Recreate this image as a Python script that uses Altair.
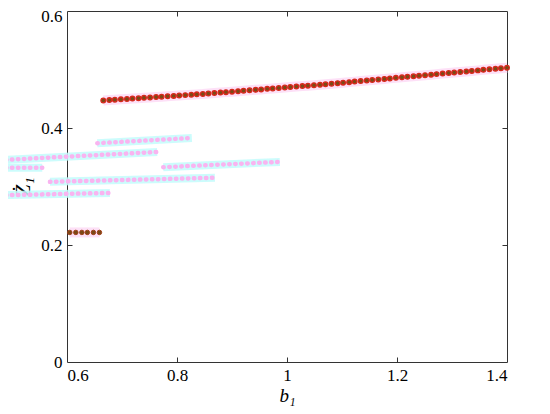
import altair as alt
import pandas as pd

# main upper branch
main_b = [0.666, 0.677, 0.687, 0.698, 0.709, 0.719, 0.730, 0.740, 0.751, 0.762,
          0.772, 0.783, 0.794, 0.804, 0.815, 0.826, 0.836, 0.847, 0.857, 0.868,
          0.879, 0.889, 0.900, 0.911, 0.921, 0.932, 0.943, 0.953, 0.964, 0.974,
          0.985, 0.996, 1.006, 1.017, 1.028, 1.038, 1.049, 1.060, 1.070, 1.081,
          1.092, 1.102, 1.113, 1.123, 1.134, 1.145, 1.155, 1.166, 1.177, 1.187,
          1.198, 1.209, 1.219, 1.230, 1.240, 1.251, 1.262, 1.272, 1.283, 1.294,
          1.304, 1.315, 1.326, 1.336, 1.347, 1.357, 1.368, 1.379, 1.389, 1.400]
main_z = [0.4470, 0.4477, 0.4483, 0.4490, 0.4496, 0.4503, 0.4509, 0.4516, 0.4522, 0.4529,
          0.4535, 0.4542, 0.4549, 0.4555, 0.4562, 0.4568, 0.4575, 0.4581, 0.4589, 0.4597,
          0.4605, 0.4613, 0.4621, 0.4629, 0.4637, 0.4645, 0.4653, 0.4660, 0.4669, 0.4676,
          0.4684, 0.4692, 0.4700, 0.4708, 0.4716, 0.4724, 0.4732, 0.4740, 0.4748, 0.4757,
          0.4766, 0.4775, 0.4784, 0.4793, 0.4802, 0.4812, 0.4820, 0.4830, 0.4839, 0.4848,
          0.4857, 0.4867, 0.4875, 0.4885, 0.4893, 0.4903, 0.4912, 0.4921, 0.4930, 0.4940,
          0.4948, 0.4958, 0.4967, 0.4976, 0.4985, 0.4994, 0.5003, 0.5013, 0.5021, 0.5030]

# short lower branch
low_b = [0.605, 0.616, 0.627, 0.637, 0.648, 0.659]
low_z = [0.2215, 0.2215, 0.2215, 0.2215, 0.2215, 0.2215]

# faint ghost streaks (start / end of each)
ghost_id = ["A", "A", "B", "B", "C", "C", "D", "D", "E", "E", "F", "F"]
ghost_b = [0.655, 0.827, 0.478, 0.764, 0.478, 0.555, 0.775, 0.987, 0.569, 0.869, 0.478, 0.678]
ghost_z = [0.374, 0.383, 0.345, 0.359, 0.332, 0.332, 0.333, 0.342, 0.308, 0.315, 0.285, 0.289]

x_ticks = [0.6, 0.8, 1.0, 1.2, 1.4]
y_ticks = [0.0, 0.2, 0.4, 0.6]
x_inner = [0.8, 1.0, 1.2]
y_inner = [0.2, 0.4]

W, H = 440, 351
FONT = "Liberation Serif"
EDGE = "#333333"

main_df = pd.DataFrame({"b": main_b, "z": main_z})
low_df = pd.DataFrame({"b": low_b, "z": low_z})
ghost_df = pd.DataFrame({"id": ghost_id, "b": ghost_b, "z": ghost_z})

xs = alt.Scale(domain=[0.6, 1.4], nice=False, zero=False)
ys = alt.Scale(domain=[0.0, 0.6], nice=False, zero=False)

X0 = alt.X("b:Q", scale=xs, axis=None)
Y0 = alt.Y("z:Q", scale=ys, axis=None)

ghost_halo = alt.Chart(ghost_df).mark_line(
    color="#c3fbfb", strokeWidth=8, opacity=0.85, clip=False
).encode(x=X0, y=Y0, detail="id:N")
ghost_dots = alt.Chart(ghost_df).mark_line(
    color="#f9b4f0", strokeWidth=4.5, strokeDash=[0.5, 5.5], strokeCap="round", clip=False
).encode(x=X0, y=Y0, detail="id:N")

main_halo = alt.Chart(main_df).mark_line(color="#fde0f7", strokeWidth=10).encode(x=X0, y=Y0)
low_halo = alt.Chart(low_df).mark_line(color="#fde0f7", strokeWidth=10).encode(x=X0, y=Y0)

x_lab = alt.Axis(values=x_ticks, format="~g", ticks=False, domain=True, domainColor=EDGE,
                 domainWidth=1, grid=False,
                 labelFont=FONT, labelFontSize=17, labelColor="black", labelPadding=5,
                 title="b₁", titleFont=FONT, titleFontStyle="italic", titleFontWeight="normal",
                 titleFontSize=19, titleColor="black", titlePadding=3)
y_lab = alt.Axis(values=y_ticks, format="~g", ticks=False, domain=True, domainColor=EDGE,
                 domainWidth=1, grid=False,
                 labelFont=FONT, labelFontSize=17, labelColor="black", labelPadding=5,
                 labelOffset={"condition": {"test": "datum.value > 0.55", "value": 5}, "value": 0},
                 title="Ż₁", titleFont=FONT, titleFontStyle="italic", titleFontWeight="normal",
                 titleFontSize=22, titleColor="black", titlePadding=6)

main_pts = alt.Chart(main_df).mark_point(
    filled=True, fill="#7a4a16", stroke="#d8281c", strokeWidth=1.3, size=22, opacity=1
).encode(x=alt.X("b:Q", scale=xs, axis=x_lab), y=alt.Y("z:Q", scale=ys, axis=y_lab))
low_pts = alt.Chart(low_df).mark_point(
    filled=True, fill="#7a4a16", stroke="#a2401c", strokeWidth=1.0, size=20, opacity=1
).encode(x=X0, y=Y0)

tick_common = dict(labels=False, grid=False, ticks=True, tickSize=5,
                   tickColor=EDGE, tickWidth=1, title=None)
# ticks pointing inward from the bottom and left edges
ticks_in_a = alt.Chart(main_df).mark_point(opacity=0).encode(
    x=alt.X("b:Q", scale=xs, axis=alt.Axis(orient="top", offset=-H, values=x_inner,
                                           domain=False, **tick_common)),
    y=alt.Y("z:Q", scale=ys, axis=alt.Axis(orient="right", offset=-W, values=y_inner,
                                           domain=False, **tick_common)),
)
# top and right frame lines with inward ticks
ticks_in_b = alt.Chart(main_df).mark_point(opacity=0).encode(
    x=alt.X("b:Q", scale=xs, axis=alt.Axis(orient="bottom", offset=-H, values=x_inner,
                                           domain=True, domainColor=EDGE, domainWidth=1,
                                           **tick_common)),
    y=alt.Y("z:Q", scale=ys, axis=alt.Axis(orient="left", offset=-W, values=y_inner,
                                           domain=True, domainColor=EDGE, domainWidth=1,
                                           **tick_common)),
)

chart = alt.layer(
    ghost_halo, ghost_dots, main_halo, low_halo, main_pts, low_pts, ticks_in_a, ticks_in_b
).resolve_axis(x="independent", y="independent").properties(
    width=W, height=H,
    background="white",
    autosize=alt.AutoSizeParams(type="none"),
    padding={"left": 59, "top": 3, "right": 35, "bottom": 44},
).configure_view(stroke=None)

chart.save("out.html", embed_options={"renderer": "svg", "actions": False})
